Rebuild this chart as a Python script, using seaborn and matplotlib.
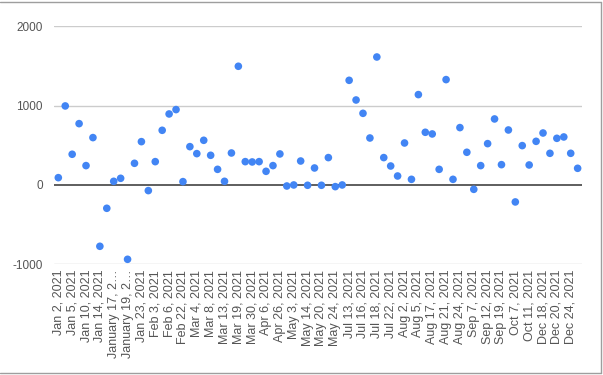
import matplotlib
matplotlib.use("Agg")
import matplotlib.pyplot as plt
import seaborn as sns
from matplotlib.lines import Line2D

# values, one per date (76 points)
values = [92, 996, 387, 773, 244, 597, -773, -294, 46, 84,
          -937, 273, 546, -71, 294, 689, 895, 950, 42, 483,
          395, 563, 374, 197, 46, 403, 1496, 294, 290, 294,
          172, 244, 391, -13, 0, 302, -4, 214, -4, 345,
          -21, 0, 1319, 1071, 903, 592, 1613, 345, 239, 113,
          529, 71, 1139, 664, 643, 197, 1328, 71, 723, 412,
          -55, 244, 521, 832, 256, 693, -214, 496, 252, 550,
          655, 399, 588, 605, 399, 210]

# every other date is labelled on the axis
tick_labels = ["Jan 2, 2021", "Jan 5, 2021", "Jan 10, 2021", "Jan 14, 2021",
               "January 17, 2\u2026", "January 19, 2\u2026", "Jan 23, 2021",
               "Feb 3, 2021", "Feb 6, 2021", "Feb 22, 2021", "Mar 4, 2021",
               "Mar 8, 2021", "Mar 13, 2021", "Mar 19, 2021", "Mar 30, 2021",
               "Apr 6, 2021", "Apr 26, 2021", "May 3, 2021", "May 14, 2021",
               "May 20, 2021", "May 24, 2021", "Jul 13, 2021", "Jul 16, 2021",
               "Jul 18, 2021", "Jul 22, 2021", "Aug 2, 2021", "Aug 5, 2021",
               "Aug 17, 2021", "Aug 21, 2021", "Aug 24, 2021", "Sep 7, 2021",
               "Sep 12, 2021", "Sep 19, 2021", "Oct 7, 2021", "Oct 11, 2021",
               "Dec 18, 2021", "Dec 20, 2021", "Dec 24, 2021"]

sns.set_style("white")
plt.rcParams["font.family"] = ["Liberation Sans", "DejaVu Sans"]

fig = plt.figure(figsize=(6.03, 3.75), dpi=100)
ax = fig.add_axes([0.0896, 0.2952, 0.875, 0.6347])

positions = list(range(len(values)))
sns.scatterplot(x=positions, y=values, ax=ax, color="#4285F4", s=30,
                edgecolor="none", zorder=3)

ax.set_ylim(-1000, 2000)
ax.set_xlim(-0.62, len(values) - 0.42)
ax.set_yticks([-1000, 0, 1000, 2000])
ax.set_yticklabels(["-1000", "0", "1000", "2000"])
for y in [-1000, 1000, 2000]:
    ax.axhline(y, color="#cccccc", lw=1, zorder=1)
ax.axhline(0, color="#333333", lw=1.1, zorder=2)

ax.set_xticks(positions[::2])
ax.set_xticklabels(tick_labels, rotation=90)
ax.tick_params(axis="x", length=0, pad=4, labelsize=9, labelcolor="#555555")
ax.tick_params(axis="y", length=0, pad=8, labelsize=8.5, labelcolor="#555555")

for s in ax.spines.values():
    s.set_visible(False)

# chart frame (top, right, bottom)
fig.add_artist(Line2D([0, 0.996], [0.996, 0.996], transform=fig.transFigure,
                      color="#9e9e9e", lw=1))
fig.add_artist(Line2D([0.996, 0.996], [0.005, 0.996], transform=fig.transFigure,
                      color="#9e9e9e", lw=1))
fig.add_artist(Line2D([0, 0.996], [0.005, 0.005], transform=fig.transFigure,
                      color="#9e9e9e", lw=1))

fig.savefig("out.png", dpi=100)
